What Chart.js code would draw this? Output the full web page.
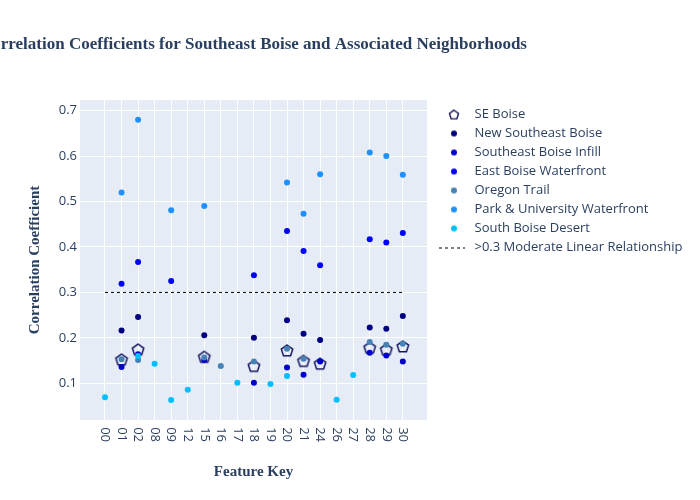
<!DOCTYPE html>
<html><head><meta charset="utf-8">
<script src="https://cdn.jsdelivr.net/npm/chart.js@4.4.1/dist/chart.umd.min.js"></script>
<style>html,body{margin:0;padding:0;background:#fff;}#wrap{width:700px;height:500px;}</style>
</head><body><div id="wrap"><canvas id="c" width="700" height="500"></canvas></div>
<script>
const titleText = 'Correlation Coefficients for Southeast Boise and Associated Neighborhoods';
const xTitle = 'Feature Key';
const yTitle = 'Correlation Coefficient';
const categories = ['00','01','02','08','09','12','15','16','17','18','19','20','21','24','26','27','28','29','30'];
const yTicks = [0.1, 0.2, 0.3, 0.4, 0.5, 0.6, 0.7];
const seriesNames = ['SE Boise','New Southeast Boise','Southeast Boise Infill','East Boise Waterfront','Oregon Trail','Park & University Waterfront','South Boise Desert'];
const seBoise    = [null,0.151,0.173,null,null,null,0.157,null,null,0.137,null,0.171,0.148,0.142,null,null,0.177,0.173,0.180];
const newSE      = [null,0.216,0.246,null,null,null,0.206,null,null,0.200,null,0.239,0.209,0.195,null,null,0.223,0.220,0.248];
const infill     = [null,0.136,0.164,null,null,null,0.151,null,null,0.101,null,0.135,0.119,0.148,null,null,0.167,0.161,0.148];
const waterfront = [null,0.319,0.367,null,0.325,null,null,null,null,0.338,null,0.435,0.391,0.360,null,null,0.417,0.410,0.431];
const oregon     = [null,0.153,0.151,null,null,null,0.157,0.138,null,0.148,null,0.176,0.154,null,null,null,0.191,0.185,0.187];
const parkUniv   = [null,0.520,0.680,null,0.481,null,0.490,null,null,null,null,0.542,0.473,0.560,null,null,0.608,0.600,0.559];
const desert     = [0.069,null,0.160,0.143,0.063,0.086,null,null,0.101,null,0.0985,0.116,null,null,0.064,0.118,null,null,null];
const thresholdName = '>0.3 Moderate Linear Relationship';
const thresholdValue = 0.3;

const TXT = '#2a3f5f';
const SANS = '"Open Sans", verdana, arial, sans-serif';
const SERIF = '"Liberation Serif", "Times New Roman", serif';
const FS = 13;
const colors = ['#14145f','#000080','#0000CD','#0000FF','#4682B4','#1E90FF','#00BFFF'];

function makeCanvas(w, h, draw) { const c = document.createElement('canvas'); c.width = w; c.height = h; draw(c.getContext('2d')); return c; }
function pentPath(g, cx, cy, R) { g.beginPath(); for (let k = 0; k < 5; k++) { const a = -Math.PI/2 + k*2*Math.PI/5; const px = cx + R*Math.cos(a), py = cy + R*Math.sin(a); if (k) g.lineTo(px, py); else g.moveTo(px, py); } g.closePath(); }

const pentPoint = makeCanvas(18, 18, g => { pentPath(g, 9, 9, 6); g.strokeStyle = colors[0]; g.lineWidth = 1.5; g.stroke(); });
const LW = 35, LH = 14, SX = 21, SY = 7;
const legendSymbols = [
  makeCanvas(LW, LH, g => { pentPath(g, SX, SY + 0.5, 4.8); g.strokeStyle = colors[0]; g.lineWidth = 1.4; g.stroke(); })
];
for (let i = 1; i < 7; i++) legendSymbols.push(makeCanvas(LW, LH, g => { g.beginPath(); g.arc(SX, SY, 3, 0, Math.PI*2); g.fillStyle = colors[i]; g.fill(); }));
legendSymbols.push(makeCanvas(LW, LH, g => { g.beginPath(); g.setLineDash([3,3]); g.moveTo(6, SY + 0.5); g.lineTo(32, SY + 0.5); g.strokeStyle = '#000'; g.lineWidth = 1; g.stroke(); }));

const toPts = arr => arr.map((v, i) => v == null ? null : {x: i, y: v}).filter(p => p);
const allSeries = [seBoise, newSE, infill, waterfront, oregon, parkUniv, desert];

const datasets = allSeries.map((arr, i) => ({
  label: seriesNames[i],
  data: toPts(arr),
  pointStyle: i === 0 ? pentPoint : 'circle',
  pointRadius: i === 0 ? 7 : 3,
  pointHoverRadius: i === 0 ? 7 : 3,
  backgroundColor: colors[i],
  borderColor: colors[i],
  borderWidth: 0,
  showLine: false,
  order: 8 - i
}));
datasets.push({
  label: thresholdName,
  data: [{x: 0, y: thresholdValue}, {x: categories.length - 1, y: thresholdValue}],
  showLine: true,
  borderColor: '#000',
  borderWidth: 1,
  borderDash: [3, 3],
  pointRadius: 0,
  backgroundColor: '#000',
  order: 0
});

const mctx = document.createElement('canvas').getContext('2d');
mctx.font = FS + 'px ' + SANS;
let maxText = 0;
seriesNames.concat([thresholdName]).forEach(t => { maxText = Math.max(maxText, mctx.measureText(t).width); });
const padR = Math.max(0, 700 - 427 - (6 + LW + FS / 2 + 10) - maxText);

const deco = {
  id: 'deco',
  beforeDraw(chart) {
    const {ctx, chartArea: a} = chart;
    ctx.save();
    ctx.fillStyle = '#fff'; ctx.fillRect(0, 0, chart.width, chart.height);
    ctx.fillStyle = '#E5ECF6'; ctx.fillRect(a.left, a.top, a.right - a.left, a.bottom - a.top);
    ctx.restore();
  },
  afterDraw(chart) {
    const {ctx, chartArea: a} = chart;
    ctx.save();
    ctx.font = 'bold 17px ' + SERIF;
    ctx.fillStyle = TXT; ctx.textAlign = 'center'; ctx.textBaseline = 'middle';
    ctx.fillText(titleText, (a.left + a.right) / 2, 45);
    ctx.restore();
  }
};

new Chart(document.getElementById('c'), {
  type: 'scatter',
  data: { datasets },
  plugins: [deco],
  options: {
    responsive: false,
    devicePixelRatio: 1,
    animation: false,
    layout: { padding: { left: 0, top: 100, right: padR, bottom: 0 } },
    plugins: {
      tooltip: { enabled: false },
      title: { display: false },
      legend: {
        position: 'right',
        align: 'start',
        maxWidth: 400,
        title: { display: true, text: ' ', font: { size: 1, lineHeight: '2px' }, padding: 0 },
        labels: {
          usePointStyle: true,
          pointStyleWidth: LW,
          padding: 6,
          color: TXT,
          font: { family: SANS, size: FS },
          sort: (a, b) => a.datasetIndex - b.datasetIndex,
          generateLabels(chart) {
            const items = Chart.defaults.plugins.legend.labels.generateLabels(chart);
            items.forEach(it => { it.pointStyle = legendSymbols[it.datasetIndex]; it.fontColor = TXT; });
            return items;
          }
        }
      }
    },
    scales: {
      x: {
        type: 'linear',
        min: -1.51, max: 19.46,
        afterBuildTicks: s => { s.ticks = categories.map((c, i) => ({ value: i })); },
        afterFit: s => { s.height = 80; },
        grid: { color: '#ffffff', lineWidth: 1, drawTicks: false },
        border: { display: false },
        ticks: {
          minRotation: -90, maxRotation: -90,
          padding: 22,
          color: TXT,
          font: { family: SANS, size: FS },
          callback: v => categories[v]
        },
        title: { display: true, text: xTitle, color: TXT, font: { family: SERIF, size: 15, weight: 'bold' }, padding: { top: 0, bottom: 19 } }
      },
      y: {
        type: 'linear',
        min: 0.0192, max: 0.7235,
        afterBuildTicks: s => { s.ticks = yTicks.map(v => ({ value: v })); },
        afterFit: s => { s.width = 80; },
        grid: { color: '#ffffff', lineWidth: 1, drawTicks: false },
        border: { display: false },
        ticks: { padding: 3, color: TXT, font: { family: SANS, size: FS }, callback: v => Number(v).toFixed(1) },
        title: { display: true, text: yTitle, color: TXT, font: { family: SERIF, size: 15, weight: 'bold' }, padding: { top: 26, bottom: 0 } }
      }
    }
  }
});
</script></body></html>
